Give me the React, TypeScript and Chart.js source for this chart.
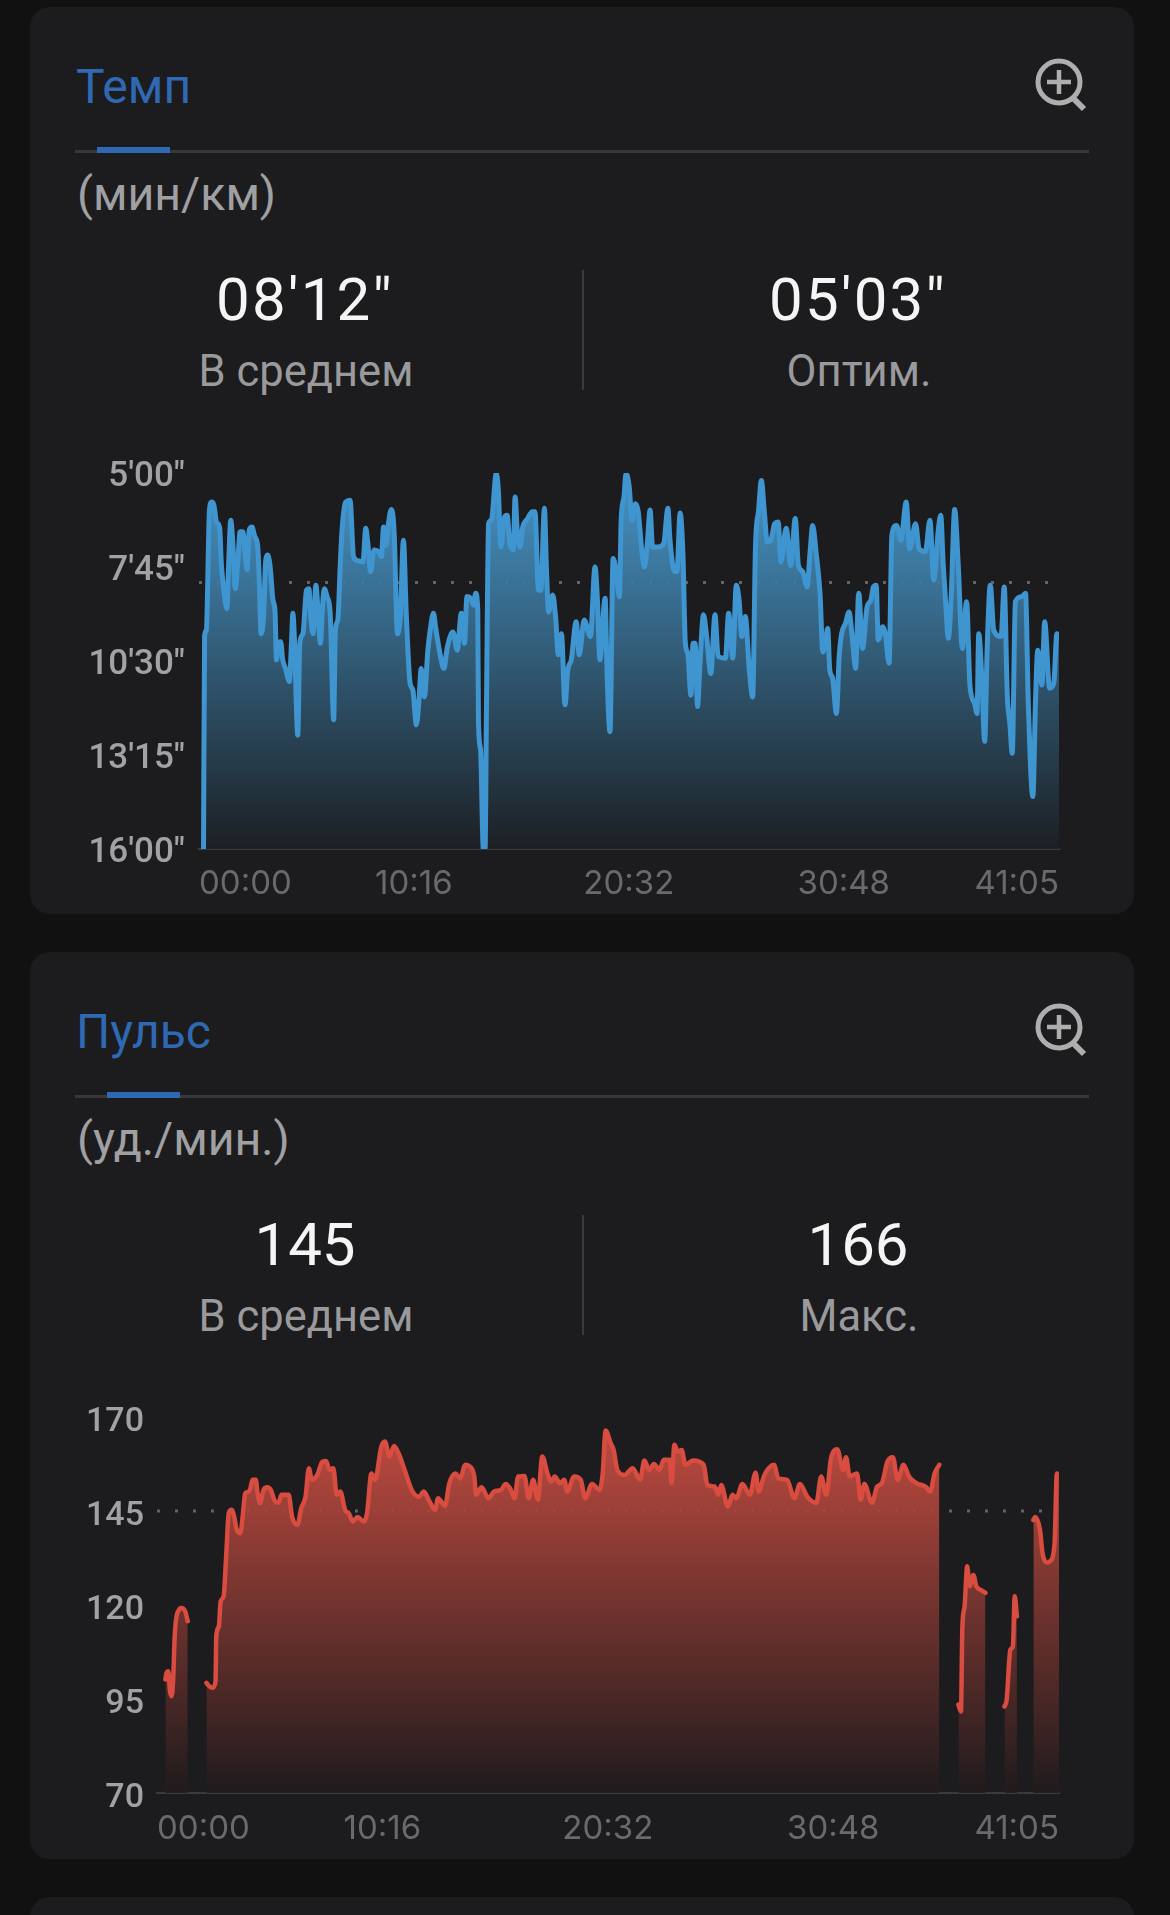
import React, { useEffect, useRef } from "react";
import { Chart, registerables } from "chart.js";

Chart.register(...registerables);

const paceTimes = [13,16,21,30,36,43,50,59,64,70,80,85,91,97,104,111,118,126,132,138,144,152,160,168,173,178,185,191,197,204,212,218,222,228,234,240,248,259,265,269,274,283,289,298,308,315,320,327,335,342,348,354,359,367,376,386,391,398,405,410,420,433,443,456,470,478,484,492,502,515,523,529,536,543,551,559,569,577,586,594,605,613,623,630,637,646,656,664,672,678,689,702,712,728,740,752,761,768,779,787,793,799,801,807,815,820,824,830,838,852,858,865,876,883,891,901,906,912,920,928,942,955,963,973,980,990,996,1002,1014,1022,1030,1039,1049,1057,1067,1081,1090,1104,1122,1135,1142,1149,1164,1170,1178,1187,1195,1205,1210,1218,1224,1233,1241,1251,1259,1269,1277,1285,1293,1300,1316,1332,1344,1350,1363,1370,1379,1387,1394,1401,1410,1416,1422,1429,1436,1446,1455,1467,1479,1488,1509,1518,1530,1540,1548,1556,1566,1577,1587,1595,1604,1612,1620,1629,1639,1650,1660,1668,1683,1696,1709,1718,1730,1743,1752,1759,1769,1780,1788,1795,1802,1808,1816,1827,1835,1842,1853,1863,1874,1882,1891,1902,1915,1926,1933,1941,1947,1960,1967,1978,1986,1999,2012,2027,2037,2054,2064,2082,2095,2106,2119,2126,2133,2139,2148,2156,2166,2176,2188,2200,2210,2223,2230,2235,2244,2252,2259,2268,2278,2299,2308,2317,2324,2331,2340,2358,2369,2377,2390,2398,2404,2416,2424,2438,2450,2459,2465];
const paceSeconds = [960,587,576,365,351,357,386,395,459,500,538,459,383,424,503,459,403,403,441,470,400,395,412,427,494,582,552,456,444,465,523,544,628,599,596,628,643,666,599,546,599,760,599,582,506,503,552,582,497,552,599,535,503,517,546,733,576,558,459,400,351,348,447,454,456,397,424,473,435,438,447,395,427,389,364,400,582,552,418,546,669,681,742,704,643,693,611,570,546,570,611,643,605,579,611,546,599,517,520,532,511,541,739,786,960,960,710,389,383,301,330,430,377,374,424,435,342,400,430,395,380,368,368,506,506,362,470,544,514,552,619,582,707,646,628,561,619,558,587,465,523,628,520,660,754,450,470,517,383,342,301,324,383,354,368,435,465,424,365,430,430,424,362,418,473,473,370,441,599,617,690,599,599,710,634,549,587,652,549,622,625,546,625,497,523,587,552,643,693,430,365,313,365,421,418,389,386,456,397,462,380,462,473,500,435,392,441,511,614,599,573,646,660,722,622,582,564,544,599,643,511,608,535,523,500,497,593,570,582,634,409,392,418,351,433,389,433,438,383,488,400,374,459,517,590,517,364,459,608,526,675,704,722,582,663,771,611,497,576,587,500,693,739,792,526,517,511,704,868,693,611,672,561,678,669,582,590];
const paceAverage = 492;
const paceTickSeconds = [300, 465, 630, 795, 960];
const paceTickLabels = ["5′00″", "7′45″", "10′30″", "13′15″", "16′00″"];

const hrTimes = [23,26,31,35,39,44,48,52,60,67,77,84,110,135,143,152,160,162,169,174,182,189,196,204,211,218,228,235,241,252,262,270,275,282,291,301,311,323,332,340,360,369,384,394,406,415,423,438,452,462,472,482,491,501,514,524,535,548,565,574,586,596,613,623,635,648,662,680,696,716,729,745,760,768,787,799,816,828,843,853,867,872,887,906,921,940,953,965,977,987,1004,1016,1028,1041,1053,1067,1077,1087,1101,1113,1121,1140,1158,1170,1189,1209,1218,1226,1240,1248,1258,1278,1300,1320,1332,1345,1358,1373,1385,1401,1406,1414,1424,1434,1444,1464,1494,1504,1524,1534,1542,1560,1573,1583,1600,1620,1636,1644,1660,1686,1698,1722,1742,1757,1777,1802,1815,1829,1842,1859,1875,1883,1893,1913,1923,1933,1954,1968,1981,1996,2011,2024,2040,2055,2075,2100,2113,2125,2138,2160,2190,2197,2201,2207,2214,2221,2231,2239,2252,2264,2290,2316,2322,2332,2339,2344,2350,2370,2395,2400,2413,2420,2433,2440,2453,2459,2465];
const hrValues = [100.2,101.9,102.4,97.5,95.7,99.7,110.8,116.1,118.7,119.2,118.3,115.7,null,99.3,98.4,98,99.7,111.7,114.3,121,122.3,132.9,144.4,145.3,143.5,140,139.1,144.4,149.7,150.2,153.3,153.3,149.7,147.1,150.6,151.3,150.6,147.5,147.2,149.3,149.3,143.5,141.3,145.7,148.8,156.4,153.3,154.6,158.1,158.3,155.9,156.4,149.3,150.2,145.3,144.4,142.2,143.4,142.2,144.4,155,153.3,162.1,163.5,159.5,162.3,159.9,155,150.6,148.8,150.2,147.5,145.3,148.4,146.4,152.4,155,153.7,157.3,157,154.2,149.3,151.3,148.4,150.2,150.6,152.2,151,148.4,154.2,154.3,148.4,153.3,148,159.5,155,152.8,154.2,152.4,153.3,150.2,154.2,153.3,148.4,152.2,150.6,155,166.4,163,161.2,155.9,154.6,156.4,153.3,158.4,155.9,157.5,155.9,158.6,158.6,152.4,162.6,160.8,161.2,157.3,158.4,157.3,151.9,151.5,149.3,151.9,146.2,149.3,148.4,152.2,149.3,155.2,150.2,154.6,157.3,153.7,153.3,148.4,152.2,148.8,147.2,154.2,149.3,159,161.4,155.9,159.3,154.2,155,148,152.2,147.2,151.5,152.4,158.1,159.3,153.3,157.3,154.2,152.4,151.5,150.2,155,157.3,null,93.5,91.7,114.3,119.6,130.3,125,128,125,124,123.2,null,93,94.8,108.1,109,122.3,117,null,142.6,143.4,140,133.8,131.3,131.6,136.4,155,154.6];
const hrAverage = 145;
const hrTickValues = [170, 145, 120, 95, 70];

const timeTicks = [0, 616, 1232, 1848, 2465];
const timeLabels = ["00:00", "10:16", "20:32", "30:48", "41:05"];

const FONT = "Roboto, 'Liberation Sans', sans-serif";

type PlotProps = {
  top: number; height: number; areaLeft: number; areaTop: number; areaBottom: number; yPad: number; xPad: number;
  labelShift: number; labelSize: number;
  times: number[]; values: (number | null)[]; average: number;
  min: number; max: number; reverse: boolean; yTicks: number[]; yLabels: string[]; base: number;
  line: string; fillTop: string; fillBottom: string; lineWidth: number;
};

function Plot(p: PlotProps) {
  const ref = useRef<HTMLCanvasElement>(null);
  useEffect(() => {
    const canvas = ref.current!;
    const chart = new Chart(canvas, {
      type: "line",
      data: {
        datasets: [
          {
            data: p.times.map((t, i) => ({ x: t, y: p.values[i] })),
            borderColor: p.line,
            borderWidth: p.lineWidth,
            borderJoinStyle: "round",
            borderCapStyle: "round",
            pointRadius: 0,
            cubicInterpolationMode: "monotone",
            spanGaps: false,
            fill: { target: { value: p.base } },
            backgroundColor: (ctx: any) => {
              const area = ctx.chart.chartArea;
              if (!area) return p.fillTop;
              const g = ctx.chart.ctx.createLinearGradient(0, area.top, 0, area.bottom);
              g.addColorStop(0, p.fillTop);
              g.addColorStop(1, p.fillBottom);
              return g;
            },
          },
          {
            data: [0, 2465].map((t) => ({ x: t, y: p.average })),
            borderColor: "#636365",
            borderWidth: 3,
            borderDash: [3, 15],
            borderCapStyle: "butt",
            pointRadius: 0,
            fill: false,
          },
        ],
      } as any,
      options: {
        animation: false,
        responsive: false,
        devicePixelRatio: 1,
        events: [],
        layout: { padding: { top: p.areaTop, right: 75, left: 0, bottom: 0 } },
        plugins: { legend: { display: false }, tooltip: { enabled: false } },
        scales: {
          x: {
            type: "linear",
            min: 0,
            max: 2465,
            afterBuildTicks: (axis: any) => { axis.ticks = timeTicks.map((value) => ({ value })); },
            afterFit: (axis: any) => { axis.height = p.height - p.areaBottom; axis.paddingLeft = 0; axis.paddingRight = 0; },
            grid: { display: false, drawTicks: false },
            border: { display: true, color: "#3a3a3c", width: 2 },
            ticks: {
              autoSkip: false,
              maxRotation: 0,
              align: "inner",
              padding: p.xPad,
              color: "#6a6a6c",
              font: { family: "Inter, Roboto, sans-serif", size: 33 },
              callback: (v: any) => timeLabels[timeTicks.indexOf(v)],
            },
          },
          y: {
            type: "linear",
            min: p.min,
            max: p.max,
            reverse: p.reverse,
            afterBuildTicks: (axis: any) => { axis.ticks = p.yTicks.map((value) => ({ value })); },
            afterFit: (axis: any) => { axis.width = p.areaLeft; axis.paddingTop = 0; axis.paddingBottom = 0; },
            grid: { display: false, drawTicks: false },
            border: { display: false },
            ticks: {
              padding: p.yPad,
              labelOffset: p.labelShift,
              color: "#a2a2a4",
              font: { family: FONT, size: p.labelSize, weight: "500" },
              callback: (v: any) => p.yLabels[p.yTicks.indexOf(v)],
            },
          },
        },
      } as any,
    });
    return () => chart.destroy();
  }, []);
  return (
    <canvas
      ref={ref}
      width={1104}
      height={p.height}
      style={{ position: "absolute", left: 30, top: p.top, width: 1104, height: p.height, display: "block" }}
    />
  );
}

function T(props: { x: number; y: number; size: number; color: string; align?: string; spacing?: number; children: string }) {
  const tx = props.align === "left" ? "0" : "-50%";
  return (
    <div
      style={{
        position: "absolute", left: props.x, top: props.y, fontFamily: FONT, fontSize: props.size,
        letterSpacing: props.spacing ?? 0,
        color: props.color, whiteSpace: "nowrap", lineHeight: 1, transform: `translate(${tx},-50%)`,
      }}
    >
      {props.children}
    </div>
  );
}

function Header(props: { dy: number; title: string; unit: string; barLeft: number; v1: string; v2: string; l2: string; spacing: number }) {
  const d = props.dy;
  return (
    <>
      <div style={{ position: "absolute", left: 30, top: 7 + d, width: 1104, height: 907, background: "#1c1c1e", borderRadius: 20 }} />
      <T x={76} y={87 + d} size={48} color="#2f69b3" align="left">{props.title}</T>
      <div style={{ position: "absolute", left: 75, top: 150 + d, width: 1014, height: 3, background: "#38383a" }} />
      <div style={{ position: "absolute", left: props.barLeft, top: 147 + d, width: 73, height: 6, background: "#2f69b3" }} />
      <T x={77} y={194 + d} size={46.5} color="#a0a0a2" align="left">{props.unit}</T>
      <T x={305} y={300 + d} size={60} spacing={props.spacing} color="#f5f5f5">{props.v1}</T>
      <T x={858} y={300 + d} size={60} spacing={props.spacing} color="#f5f5f5">{props.v2}</T>
      <T x={306} y={371.5 + d} size={43.5} color="#9a9a9c">В среднем</T>
      <T x={859} y={371.5 + d} size={43.5} color="#9a9a9c">{props.l2}</T>
      <div style={{ position: "absolute", left: 582, top: 270 + d, width: 2, height: 120, background: "#3a3a3c" }} />
      <svg style={{ position: "absolute", left: 1030, top: 54 + d }} width={60} height={60} viewBox="0 0 60 60" fill="none" stroke="#aeaeae" strokeWidth={5}>
        <circle cx={29} cy={28} r={21} />
        <path d="M17 28H41M29 16V40" strokeWidth={4.5} />
        <path d="M44 45L54 55" strokeWidth={6} />
      </svg>
    </>
  );
}

export default function App() {
  return (
    <div style={{ position: "absolute", left: 0, top: 0, width: 1170, height: 1915, background: "#111112", overflow: "hidden" }}>
      <Header dy={0} title="Темп" unit="(мин/км)" barLeft={97} v1={`08'12"`} v2={`05'03"`} l2="Оптим." spacing={2.2} />
      <Plot
        top={450} height={460} areaLeft={169} areaTop={23} areaBottom={399} yPad={14} xPad={15} labelShift={4} labelSize={35}
        times={paceTimes} values={paceSeconds} average={paceAverage}
        min={300} max={960} reverse={true} yTicks={paceTickSeconds} yLabels={paceTickLabels} base={960}
        line="#3f95d0" fillTop="rgba(74,158,212,0.92)" fillBottom="rgba(28,32,36,0.92)" lineWidth={5}
      />
      <Header dy={945} title="Пульс" unit="(уд./мин.)" barLeft={107} v1="145" v2="166" l2="Макс." spacing={0} />
      <Plot
        top={1395} height={460} areaLeft={127} areaTop={22} areaBottom={398} yPad={13} xPad={16} labelShift={5} labelSize={34}
        times={hrTimes} values={hrValues} average={hrAverage}
        min={70} max={170} reverse={false} yTicks={hrTickValues} yLabels={hrTickValues.map(String)} base={70}
        line="#d94c40" fillTop="rgba(210,80,68,0.92)" fillBottom="rgba(32,27,29,0.92)" lineWidth={4.5}
      />
      <div style={{ position: "absolute", left: 30, top: 1897, width: 1104, height: 60, background: "#1c1c1e", borderRadius: 20 }} />
    </div>
  );
}
